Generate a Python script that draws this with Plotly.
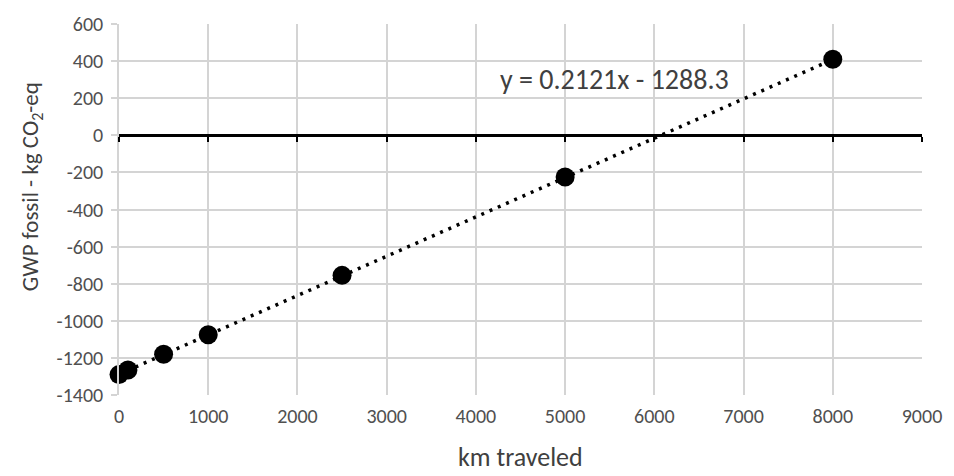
import plotly.graph_objects as go

# Measured GWP (fossil) against distance travelled
km_traveled = [0, 100, 500, 1000, 2500, 5000, 8000]
gwp_fossil = [-1290, -1265, -1180, -1075, -755, -225, 410]

# Linear trendline coefficients shown in the equation label
slope = 0.2121
intercept = -1288.3
trend_x = [0, 8000]
trend_y = [slope * x + intercept for x in trend_x]

x_ticks = list(range(0, 9001, 1000))
y_ticks = list(range(-1400, 601, 200))
y_tick_text = [str(v) for v in y_ticks]

FONT = "Calibri, Carlito, Lato, sans-serif"
GRID = "#d4d4d4"
TICK_COLOR = "#505050"
TITLE_COLOR = "#404040"

fig = go.Figure()

fig.add_trace(go.Scatter(
    x=trend_x, y=trend_y, mode="lines",
    line=dict(color="black", width=3.5, dash="3px,6px"),
    hoverinfo="skip", showlegend=False, cliponaxis=False,
))
fig.add_trace(go.Scatter(
    x=km_traveled, y=gwp_fossil, mode="markers",
    marker=dict(color="black", size=19),
    showlegend=False, cliponaxis=False,
))
# carrier trace for the horizontal axis drawn through y = 0
fig.add_trace(go.Scatter(
    x=km_traveled, y=gwp_fossil, mode="markers", xaxis="x2",
    marker=dict(opacity=0), hoverinfo="skip", showlegend=False,
))

y_min, y_max = y_ticks[0], y_ticks[-1]
zero_pos = (0 - y_min) / (y_max - y_min)

fig.update_layout(
    width=954, height=476,
    margin=dict(l=119, r=22, t=18, b=81),
    paper_bgcolor="white", plot_bgcolor="white",
    font=dict(family=FONT, color=TICK_COLOR, size=20),
    xaxis=dict(
        range=[x_ticks[0], x_ticks[-1]], tickvals=x_ticks,
        showgrid=True, gridcolor=GRID, gridwidth=1.5,
        zeroline=False, showline=False, ticks="",
        ticklabelstandoff=7,
        tickfont=dict(family=FONT, size=20, color=TICK_COLOR),
    ),
    xaxis2=dict(
        overlaying="x", matches="x", anchor="free", position=zero_pos,
        range=[x_ticks[0], x_ticks[-1]], tickvals=x_ticks,
        showgrid=False, zeroline=False, showticklabels=False,
        showline=True, linecolor="black", linewidth=2.5,
        ticks="outside", ticklen=5, tickwidth=2, tickcolor="black",
    ),
    yaxis=dict(
        range=[y_min, y_max], tickvals=y_ticks, ticktext=y_tick_text,
        showgrid=True, gridcolor=GRID, gridwidth=1.5,
        zeroline=False, showline=True, linecolor=GRID, linewidth=1.5,
        ticks="outside", ticklen=6, tickcolor=GRID, tickwidth=1.5,
        ticklabelstandoff=4,
        tickfont=dict(family=FONT, size=20, color=TICK_COLOR),
    ),
    annotations=[
        dict(
            x=5550, y=300, xref="x", yref="y",
            xanchor="center", yanchor="middle",
            text=f"y = {slope}x - {abs(intercept)}",
            showarrow=False, font=dict(family=FONT, size=28, color=TITLE_COLOR),
        ),
        dict(
            x=0.5, y=0, xref="paper", yref="paper", yshift=-62,
            xanchor="center", yanchor="middle",
            text="km traveled", showarrow=False,
            font=dict(family=FONT, size=26, color=TITLE_COLOR),
        ),
        dict(
            x=0, y=0.56, xref="paper", yref="paper", xshift=-88,
            xanchor="center", yanchor="middle",
            text="GWP fossil - kg CO<sub>2</sub>-eq", textangle=-90,
            showarrow=False, font=dict(family=FONT, size=23, color=TITLE_COLOR),
        ),
    ],
)

fig.write_html("out.html")
